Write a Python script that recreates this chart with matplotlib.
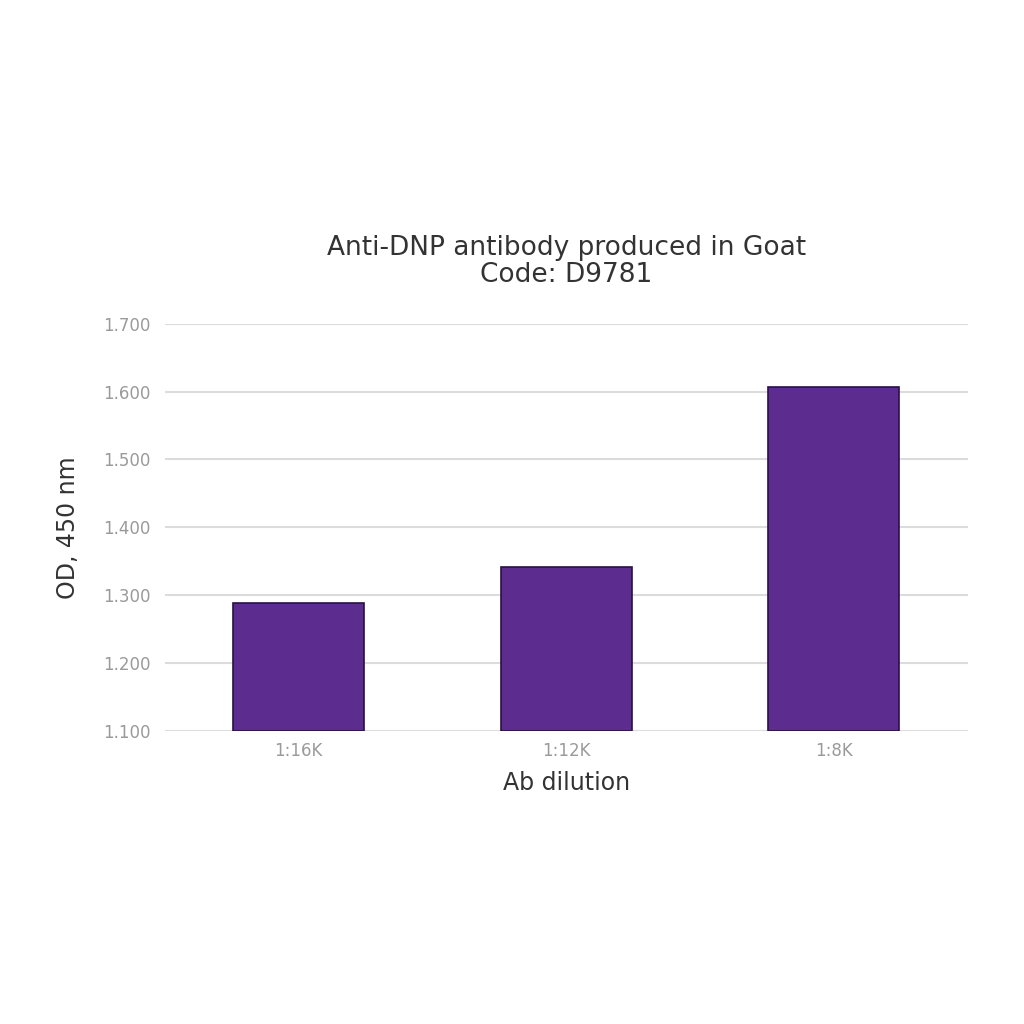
import matplotlib.pyplot as plt
import numpy as np

# data
dilutions = ["1:16K", "1:12K", "1:8K"]
od_450 = [1.289, 1.342, 1.607]
yticks = [1.1, 1.2, 1.3, 1.4, 1.5, 1.6, 1.7]

fig = plt.figure(figsize=(10.24, 10.24), dpi=100)
ax = fig.add_axes([0.161, 0.286, 0.784, 0.398])

x = np.arange(len(dilutions))
ax.bar(x, np.array(od_450) - 1.1, 0.49, bottom=1.1, color="#5c2d8f",
       edgecolor="#2a1045", linewidth=1.2, zorder=3)

ax.set_xlim(-0.5, 2.5)
ax.set_ylim(1.1, 1.7)
ax.set_yticks(yticks)
ax.set_yticklabels(["%.3f" % v for v in yticks], color="#9a9a9a", fontsize=12)
ax.set_xticks(x)
ax.set_xticklabels(dilutions, color="#9a9a9a", fontsize=12)
ax.tick_params(length=0, pad=10)
ax.tick_params(axis="x", pad=8)
ax.grid(axis="y", color="#dcdcdc", linewidth=1.5, zorder=0)
for s in ax.spines.values():
    s.set_visible(False)

ax.set_xlabel("Ab dilution", fontsize=17, color="#333333", labelpad=8)
ax.set_ylabel("OD, 450 nm", fontsize=17, color="#333333", labelpad=17)
ax.set_title("Anti-DNP antibody produced in Goat\nCode: D9781", fontsize=19,
             color="#333333", pad=30, linespacing=1.05)

fig.savefig("out.png", dpi=100, facecolor="white")
